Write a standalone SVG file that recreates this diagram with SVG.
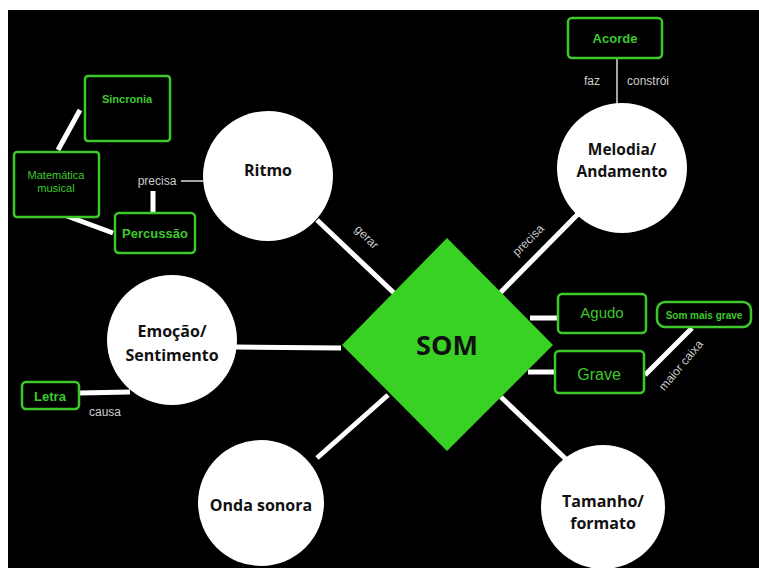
<svg xmlns="http://www.w3.org/2000/svg" width="759" height="568" viewBox="0 0 759 568">
<style>
.c{fill:#fff}
.ct{font-family:"Open Sans","Liberation Sans",sans-serif;font-weight:700;font-size:16px;fill:#111;text-anchor:middle}
.b{fill:#000;stroke:#3ec82c;stroke-width:2.5}
.bt{font-family:"Liberation Sans",Arial,sans-serif;fill:#3ec82c;text-anchor:middle}
.w{stroke:#fff;stroke-width:5;fill:none}
.t{stroke:#ddd;stroke-width:1.5;fill:none}
.l{font-family:"Liberation Sans",Arial,sans-serif;font-size:12px;fill:#ccc;text-anchor:middle}
</style>
<rect width="759" height="568" fill="#fff"/>
<rect x="8" y="10" width="751" height="558" fill="#000"/>
<g id="connectors">
<line class="w" x1="317" y1="220" x2="394" y2="293"/>
<line class="w" x1="578" y1="214" x2="500" y2="293"/>
<line class="w" x1="236" y1="347" x2="341" y2="348"/>
<line class="w" x1="317" y1="458" x2="388" y2="395"/>
<line class="w" x1="501" y1="397" x2="571" y2="464"/>
<line class="w" x1="530" y1="318" x2="557" y2="318"/>
<line class="w" x1="528" y1="372" x2="555" y2="372"/>
<line class="w" x1="645" y1="375" x2="692" y2="328"/>
<line class="w" x1="79" y1="393" x2="130" y2="392"/>
<line class="t" x1="617" y1="58" x2="617" y2="104"/>
<line class="t" x1="181" y1="181" x2="204" y2="181"/>
<line class="w" x1="153" y1="191" x2="153" y2="213"/>
<line class="w" x1="80" y1="110" x2="58" y2="150"/>
<line class="w" x1="67" y1="216" x2="113" y2="233"/>
<text class="l" transform="translate(364 240) rotate(45)">gerar</text>
<text class="l" transform="translate(531 243) rotate(-45)">precisa</text>
<text class="l" transform="translate(684 368) rotate(-50)">maior caixa</text>
<text class="l" x="105" y="416">causa</text>
<text class="l" x="592" y="85">faz</text>
<text class="l" x="648" y="85">constrói</text>
<text class="l" x="157" y="185">precisa</text>
</g>
<g id="som">
<polygon points="447,238 553,345 447,451 342,345" fill="#3ad125"/>
<text x="447" y="355" class="ct" style="font-size:27px">SOM</text>
</g>
<g id="ritmo">
<circle class="c" cx="268" cy="176" r="65"/>
<text class="ct" x="268" y="176">Ritmo</text>
</g>
<g id="melodia">
<circle class="c" cx="622" cy="168" r="65"/>
<text class="ct" x="622" y="155" style="font-size:15.5px">Melodia/</text>
<text class="ct" x="622" y="177" style="font-size:15.5px">Andamento</text>
</g>
<g id="emocao">
<circle class="c" cx="172" cy="340" r="65"/>
<text class="ct" x="172" y="337">Emoção/</text>
<text class="ct" x="172" y="361">Sentimento</text>
</g>
<g id="onda">
<circle class="c" cx="261" cy="503" r="63"/>
<text class="ct" x="261" y="511">Onda sonora</text>
</g>
<g id="tamanho">
<circle class="c" cx="603" cy="507" r="62"/>
<text class="ct" x="603" y="507">Tamanho/</text>
<text class="ct" x="603" y="529">formato</text>
</g>
<g id="acorde">
<rect class="b" x="568" y="18" width="94" height="40" rx="4"/>
<text class="bt" x="615" y="43" font-size="13" font-weight="700">Acorde</text>
</g>
<g id="sincronia">
<rect class="b" x="85" y="76" width="85" height="65" rx="3"/>
<text class="bt" x="127" y="103" font-size="11" font-weight="700">Sincronia</text>
</g>
<g id="matematica">
<rect class="b" x="14" y="152" width="85" height="65" rx="3"/>
<text class="bt" x="56" y="179" font-size="11">Matemática</text>
<text class="bt" x="56" y="192" font-size="11">musical</text>
</g>
<g id="percussao">
<rect class="b" x="115" y="213" width="80" height="40" rx="4"/>
<text class="bt" x="155" y="238" font-size="13" font-weight="700">Percussão</text>
</g>
<g id="agudo">
<rect class="b" x="558" y="294" width="88" height="39" rx="4"/>
<text class="bt" x="602" y="318" font-size="15">Agudo</text>
</g>
<g id="grave">
<rect class="b" x="555" y="351" width="89" height="42" rx="4"/>
<text class="bt" x="599" y="380" font-size="16">Grave</text>
</g>
<g id="som-mais-grave">
<rect class="b" x="657" y="302" width="94" height="25" rx="8"/>
<text class="bt" x="704" y="319" font-size="10" font-weight="700">Som mais grave</text>
</g>
<g id="letra">
<rect class="b" x="22" y="382" width="57" height="27" rx="4"/>
<text class="bt" x="50" y="401" font-size="13" font-weight="700">Letra</text>
</g>
</svg>
